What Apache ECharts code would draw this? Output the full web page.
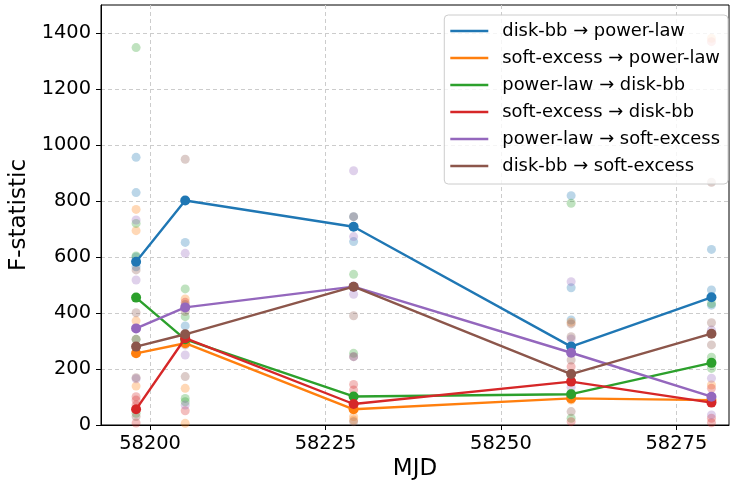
<!DOCTYPE html>
<html>
<head>
<meta charset="utf-8">
<script src="https://cdn.jsdelivr.net/npm/echarts@6/dist/echarts.min.js"></script>
<style>
html, body { margin: 0; padding: 0; background: #fff; }
#chart { width: 731px; height: 484px; }
</style>
</head>
<body>
<div id="chart"></div>
<script>
// epochs (MJD)
var mjd = [58198, 58205, 58229, 58260, 58280];

var names = ['disk-bb → power-law', 'soft-excess → power-law', 'power-law → disk-bb',
             'soft-excess → disk-bb', 'power-law → soft-excess', 'disk-bb → soft-excess'];
var colors = ['#1f77b4', '#ff7f0e', '#2ca02c', '#d62728', '#9467bd', '#8c564b'];

// mean F-statistic per epoch
var diskbbPowerlaw     = [583, 802, 708, 280, 456];
var softexcessPowerlaw = [256, 292, 56, 95, 89];
var powerlawDiskbb     = [455, 306, 102, 110, 222];
var softexcessDiskbb   = [56, 310, 75, 155, 80];
var powerlawSoftexcess = [345, 420, 494, 258, 101];
var diskbbSoftexcess   = [280, 324, 494, 182, 326];

// individual trials per epoch (faint points)
var diskbbPowerlawTrials     = [[956, 830, 565, 600], [652, 354], [744, 655], [819, 490, 375], [627, 482, 428]];
var softexcessPowerlawTrials = [[770, 694, 372, 139], [450, 131, 6], [18, 30], [367, 89], [1381, 143]];
var powerlawDiskbbTrials     = [[1348, 720, 604, 306, 42], [486, 387, 95, 83], [538, 256], [792, 113, 95, 24], [434, 242, 202]];
var softexcessDiskbbTrials   = [[101, 89, 71, 7], [438, 51], [145, 125], [208, 12], [1369, 131, 24, 8]];
var powerlawSoftexcessTrials = [[732, 518, 165], [613, 250, 71], [908, 673, 467, 244], [512, 307, 135], [339, 167, 36]];
var diskbbSoftexcessTrials   = [[554, 401, 306, 169, 30], [949, 430, 405, 286, 173], [744, 390, 244, 12], [361, 315, 232, 48], [867, 365, 286]];

var xTicks = [58200, 58225, 58250, 58275];
var yTicks = [0, 200, 400, 600, 800, 1000, 1200, 1400];

var means = [diskbbPowerlaw, softexcessPowerlaw, powerlawDiskbb, softexcessDiskbb, powerlawSoftexcess, diskbbSoftexcess];
var trials = [diskbbPowerlawTrials, softexcessPowerlawTrials, powerlawDiskbbTrials,
              softexcessDiskbbTrials, powerlawSoftexcessTrials, diskbbSoftexcessTrials];

var font = 'DejaVu Sans';
var series = [];

// faint trial points first, so the lines sit on top
for (var i = 0; i < names.length; i++) {
    var pts = [];
    for (var k = 0; k < mjd.length; k++) {
        for (var j = 0; j < trials[i][k].length; j++) {
            pts.push([mjd[k], trials[i][k][j]]);
        }
    }
    series.push({
        name: 'trials' + i,
        type: 'scatter',
        data: pts,
        symbolSize: 9,
        itemStyle: { color: colors[i], opacity: 0.3 },
        silent: true,
        z: 2
    });
}

for (var i = 0; i < names.length; i++) {
    var line = [];
    for (var k = 0; k < mjd.length; k++) line.push([mjd[k], means[i][k]]);
    series.push({
        name: names[i],
        type: 'line',
        data: line,
        symbol: 'circle',
        symbolSize: 10,
        showSymbol: true,
        lineStyle: { color: colors[i], width: 2.4 },
        itemStyle: { color: colors[i] },
        z: 3 + i
    });
}

var myChart = echarts.init(document.getElementById('chart'));
var option = {
    animation: false,
    backgroundColor: '#fff',
    grid: {
        left: 101, right: 2, top: 5, bottom: 59,
        outerBoundsMode: 'none',
        containLabel: false,
        show: true, borderColor: '#000', borderWidth: 1
    },
    legend: {
        data: names,
        orient: 'vertical',
        right: 3,
        top: 15,
        icon: 'rect',
        itemWidth: 38,
        itemHeight: 2.5,
        itemGap: 5,
        padding: [5, 8, 7, 6],
        backgroundColor: 'rgba(255,255,255,0.8)',
        borderColor: '#cccccc',
        borderWidth: 1,
        borderRadius: 4,
        textStyle: { fontFamily: font, fontSize: 17.9, color: '#000', lineHeight: 22, padding: [0, 0, 0, 9] }
    },
    xAxis: {
        type: 'value',
        min: 58193,
        max: 58282.5,
        name: 'MJD',
        nameLocation: 'middle',
        nameGap: 32,
        nameTextStyle: { fontFamily: font, fontSize: 23, color: '#000' },
        axisLine: { show: true, lineStyle: { color: '#000', width: 1 } },
        axisTick: { show: true, length: 5, lineStyle: { color: '#000' }, customValues: xTicks },
        axisLabel: { fontFamily: font, fontSize: 19.4, color: '#000', margin: 9, customValues: xTicks,
                     formatter: function (v) { return String(v); } },
        splitLine: { show: true, lineStyle: { color: '#cccccc', type: [4, 3], width: 1 } }
    },
    yAxis: {
        type: 'value',
        min: 0,
        max: 1500,
        name: 'F-statistic',
        nameLocation: 'middle',
        nameGap: 60,
        nameTextStyle: { fontFamily: font, fontSize: 23, color: '#000' },
        axisLine: { show: true, lineStyle: { color: '#000', width: 1 } },
        axisTick: { show: true, length: 5, lineStyle: { color: '#000' }, customValues: yTicks },
        axisLabel: { fontFamily: font, fontSize: 19.4, color: '#000', margin: 10, customValues: yTicks,
                     formatter: function (v) { return String(v); } },
        splitLine: { show: true, lineStyle: { color: '#cccccc', type: [4, 3], width: 1 } }
    },
    series: series
};
myChart.setOption(option);
</script>
</body>
</html>
